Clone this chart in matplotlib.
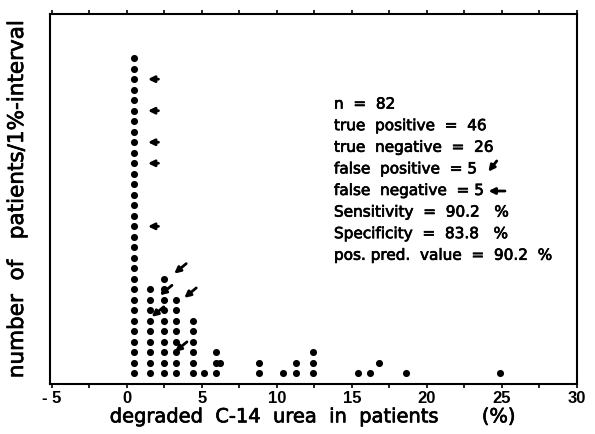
import numpy as np
import matplotlib.pyplot as plt
import matplotlib.patheffects as pe
from matplotlib.ticker import MultipleLocator

plt.rcParams['font.family'] = ['DejaVu Sans']

# columns of dots: x position (%), number of patients, starting row
col_x = [0.47, 1.53, 2.47, 3.27, 4.4, 5.13, 5.93, 6.2, 8.8, 10.4, 11.3, 12.4, 15.4, 16.2, 16.8, 18.6, 24.9]
col_n = [31, 9, 10, 8, 6, 1, 3, 1, 2, 1, 2, 3, 1, 1, 1, 1, 1]
col_base = [1, 1, 1, 1, 1, 1, 1, 2, 1, 1, 1, 1, 1, 1, 2, 1, 1]

# false negative arrows (point left at the tall column), rows
fn_rows = [29, 26, 23, 21, 15]
fn_tip_x = 1.4

# false positive arrows (point down-left), tip positions
fp_tip_x = [3.15, 2.2, 3.82, 1.65, 3.2]
fp_tip_y = [10.5, 8.44, 8.19, 6.39, 3.06]

stats_lines = [
    "n  =  82",
    "true  positive  =  46",
    "true  negative  =  26",
    "false  positive  = 5",
    "false  negative  = 5",
    "Sensitivity  =  90.2   %",
    "Specificity  =  83.8   %",
    "pos. pred.  value  =  90.2  %",
]

xticks = [-5, 0, 5, 10, 15, 20, 25, 30]
xtick_labels = ["- 5", "0", "5", "10", "15", "20", "25", "30"]

thick = [pe.withStroke(linewidth=0.5, foreground='black')]

fig = plt.figure(figsize=(5.95, 4.34), dpi=100)
ax = fig.add_axes([50 / 595, 1 - 384 / 434, 527 / 595, 370 / 434])

for x, n, b in zip(col_x, col_n, col_base):
    rows = np.arange(b, b + n)
    ax.scatter(np.full(n, x), rows, s=26, color='black', linewidths=0, zorder=3)


def arrow(tip, tail):
    ax.annotate('', xy=tip, xytext=tail,
                arrowprops=dict(arrowstyle='-|>', color='black', lw=2.0,
                                mutation_scale=9, shrinkA=0, shrinkB=0))


for r in fn_rows:
    arrow((fn_tip_x, r), (fn_tip_x + 0.7, r))

for tx, ty in zip(fp_tip_x, fp_tip_y):
    arrow((tx, ty), (tx + 0.8, ty + 0.95))

# stats block
for i, line in enumerate(stats_lines):
    ax.annotate(line, xy=(13.8, 26.63), xytext=(0, -i * 15.55),
                textcoords='offset points', ha='left', va='center',
                fontsize=11, path_effects=thick)

# arrows in the stats block
arrow((24.09, 20.2), (24.65, 21.22))
arrow((24.1, 18.36), (25.2, 18.36))

ax.set_xlim(-5.13, 30)
ax.set_ylim(0, 35.2)
ax.set_xticks(xticks)
ax.set_xticklabels(xtick_labels, family='Liberation Sans', fontweight='bold')
ax.xaxis.set_minor_locator(MultipleLocator(2.5))
ax.set_yticks([])
ax.tick_params(axis='x', which='both', direction='out', top=True,
               length=3, width=1.2, labelsize=12, pad=2)
for s in ax.spines.values():
    s.set_linewidth(1.5)

ax.set_xlabel("degraded  C-14  urea  in  patients       (%)", fontsize=14,
              labelpad=1, path_effects=thick)
ax.set_ylabel("number  of   patients/1%-interval", fontsize=15.5, path_effects=thick)
ax.yaxis.set_label_coords(-23 / 527, 0.5)

fig.savefig("out.png", dpi=100)
